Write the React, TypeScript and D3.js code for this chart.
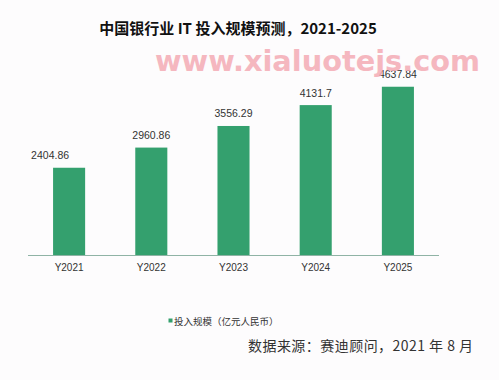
import React from "react";
import * as d3 from "d3";

const categories = ["Y2021", "Y2022", "Y2023", "Y2024", "Y2025"];
const values = [2404.86, 2960.86, 3556.29, 4131.7, 4637.84];
const valueLabels = ["2404.86", "2960.86", "3556.29", "4131.7", "4637.84"];
const title = "中国银行业 IT 投入规模预测，2021-2025";
const legendLabel = "投入规模（亿元人民币）";
const sourceText = "数据来源：赛迪顾问，2021 年 8 月";
const watermark = "www.xialuotejs.com";

const W = 499;
const H = 380;
const labelDx = [-19, 0, 0, 0, 0];

export default function App() {
  const x = d3.scaleBand<string>().domain(categories).range([28, 439]).paddingInner(0.61).paddingOuter(0.305);
  const y = d3.scaleLinear().domain([0, 5000]).range([255, 255 - 5000 * 0.03628]);
  const bw = x.bandwidth();
  return (
    <svg width={W} height={H} style={{ position: "absolute", left: 0, top: 0, background: "#fdfcfd" }}>
      <rect x={0} y={0} width={W} height={H} fill="#fdfcfd" />
      <text x={238} y={34} textAnchor="middle" fontFamily="'Noto Sans CJK SC', 'Liberation Sans', sans-serif" fontWeight="bold" fontSize={15} fill="#111">{title}</text>
      {categories.map((c, i) => (
        <rect key={c} x={x(c)} y={y(values[i])} width={bw} height={y(0) - y(values[i])} fill="#34a06e" />
      ))}
      <line x1={28} x2={439} y1={255.5} y2={255.5} stroke="#8fb3a5" strokeWidth={1} />
      {categories.map((c, i) => (
        <text key={c + "v"} x={(x(c) as number) + bw / 2 + labelDx[i]} y={y(values[i]) - 8.5} textAnchor="middle" fontFamily="'Liberation Sans', Arial, sans-serif" fontSize={10.5} fill="#333">{valueLabels[i]}</text>
      ))}
      {categories.map((c) => (
        <text key={c + "c"} x={(x(c) as number) + bw / 2} y={271} textAnchor="middle" fontFamily="'Liberation Sans', Arial, sans-serif" fontSize={10} fill="#333">{c}</text>
      ))}
      <rect x={168.5} y={318.5} width={4} height={4} fill="#34a06e" />
      <text x={174} y={325} fontFamily="'Noto Sans CJK SC', sans-serif" fontSize={9.5} fill="#333">{legendLabel}</text>
      <text x={248} y={351} textLength={225} lengthAdjust="spacing" fontFamily="'Noto Sans CJK SC', sans-serif" fontSize={14} fill="#333">{sourceText}</text>
      <text x={155} y={71} textLength={325} lengthAdjust="spacingAndGlyphs" fontFamily="'DejaVu Sans', sans-serif" fontWeight="bold" fontSize={28} fill="#f4abb5" opacity={0.85}>{watermark}</text>
    </svg>
  );
}
